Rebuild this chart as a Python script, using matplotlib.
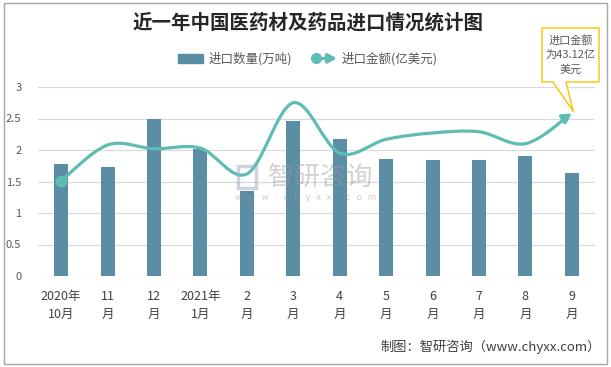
import numpy as np
import matplotlib
matplotlib.use("Agg")
import matplotlib.pyplot as plt
from matplotlib.path import Path
from matplotlib.patches import FancyArrowPatch, Patch, Polygon, Rectangle
from matplotlib.lines import Line2D
from matplotlib.legend_handler import HandlerBase

plt.rcParams['font.family'] = ['Noto Sans CJK SC', 'DejaVu Sans']

# ---- data ----
months = ["2020年\n10月", "11\n月", "12\n月", "2021年\n1月", "2\n月", "3\n月",
          "4\n月", "5\n月", "6\n月", "7\n月", "8\n月", "9\n月"]
volume = [1.78, 1.73, 2.49, 2.02, 1.35, 2.46, 2.17, 1.86, 1.84, 1.84, 1.90, 1.64]   # 万吨
amount = [1.51, 2.08, 2.02, 2.03, 1.62, 2.75, 1.95, 2.17, 2.27, 2.29, 2.10, 2.58]   # 亿美元 (drawn on same scale)
yticks = [0, 0.5, 1, 1.5, 2, 2.5, 3]
ytick_labels = ["0", "0.5", "1", "1.5", "2", "2.5", "3"]

bar_color = "#5B8DA5"
line_color = "#5EBDB3"
text_grey = "#595959"

W, H = 611, 367
fig = plt.figure(figsize=(W / 100, H / 100), dpi=100)
fig.subplots_adjust(left=38 / W, right=595 / W, bottom=1 - 276 / H, top=1 - 87 / H)
ax = fig.add_subplot(111)

x = np.arange(len(months))
ax.bar(x, volume, width=0.3, color=bar_color, zorder=2)


# smoothed line like excel (catmull-rom -> cubic bezier segments)
def smooth_path(xs, ys):
    pts = np.column_stack([xs, ys]).astype(float)
    verts = [pts[0]]
    codes = [Path.MOVETO]
    n = len(pts)
    for i in range(n - 1):
        p0 = pts[i - 1] if i > 0 else pts[i]
        p1 = pts[i]
        p2 = pts[i + 1]
        p3 = pts[i + 2] if i + 2 < n else pts[i + 1]
        c1 = p1 + (p2 - p0) / 6
        c2 = p2 - (p3 - p1) / 6
        verts += [c1, c2, p2]
        codes += [Path.CURVE4] * 3
    return Path(verts, codes)


curve = FancyArrowPatch(path=smooth_path(x, amount), arrowstyle="-|>,head_length=0.45,head_width=0.25",
                        mutation_scale=12, color=line_color, lw=2.3, capstyle="round",
                        joinstyle="round", transform=ax.transData, zorder=3)
ax.add_artist(curve)
ax.plot(x[0], amount[0], marker="o", ms=7.5, color=line_color, zorder=4)

ax.set_xlim(-0.5, len(months) - 0.5)
ax.set_ylim(0, 3)
ax.set_yticks(yticks)
ax.set_yticklabels(ytick_labels)
ax.set_xticks(x)
ax.set_xticklabels(months, linespacing=1.55)
ax.tick_params(axis="y", length=0, labelsize=8, labelcolor=text_grey, pad=12)
ax.tick_params(axis="x", length=0, labelsize=9, labelcolor="#404040", pad=10)
ax.grid(axis="y", color="#D9D9D9", lw=0.9, zorder=0)
for s in ax.spines.values():
    s.set_visible(False)

# title
fig.text(308 / W, 1 - 23 / H, "近一年中国医药材及药品进口情况统计图", ha="center", va="center",
         fontsize=14, fontweight="bold", color="#262626")


# legend
class ArrowHandler(HandlerBase):
    def create_artists(self, legend, orig_handle, xdescent, ydescent, width, height, fontsize, trans):
        y = height / 2 - ydescent
        arr = FancyArrowPatch((-xdescent + 3, y), (width - xdescent, y),
                              arrowstyle="-|>,head_length=0.45,head_width=0.25", mutation_scale=11,
                              color=line_color, lw=2.3, shrinkA=0, shrinkB=0, transform=trans)
        dot = Line2D([-xdescent + 3], [y], marker="o", ms=7, color=line_color, transform=trans)
        return [arr, dot]


h_bar = Patch(color=bar_color)
h_line = Line2D([], [], color=line_color)
fig.legend([h_bar, h_line], ["进口数量(万吨)", "进口金额(亿美元)"],
           handler_map={Line2D: ArrowHandler()}, loc="center",
           bbox_to_anchor=(308 / W, 1 - 59 / H), ncol=2, frameon=False, fontsize=9,
           labelcolor=text_grey, handlelength=2.0, handletextpad=0.4, columnspacing=1.6)

# callout box with pointer to last point
tip = fig.transFigure.inverted().transform(ax.transData.transform((x[-1], amount[-1])))
bx0, bx1, by0, by1 = 542 / W, 599 / W, 1 - 82 / H, 1 - 28 / H
callout = Polygon([(bx0, by0), (bx0, by1), (bx1, by1), (bx1, by0), (566 / W, by0),
                   (tip[0] + 1.5 / W, tip[1] + 2 / H), (553 / W, by0)],
                  closed=True, transform=fig.transFigure, facecolor="white",
                  edgecolor="#FFC000", lw=1.0, zorder=5)
fig.patches.append(callout)
fig.text((bx0 + bx1) / 2, (by0 + by1) / 2, "进口金额\n为43.12亿\n美元", ha="center", va="center",
         fontsize=8, color=text_grey, linespacing=1.45, zorder=6)

# watermark
fig.text(268 / W, 1 - 177 / H, "智研咨询", ha="left", va="center", fontsize=19,
         color="#9A9A9A", alpha=0.45)
fig.text(306 / W, 1 - 197 / H, "w   w   w   .   c   h   y   x   x   .   c   o   m", ha="center",
         va="center", fontsize=6.5, color="#9A9A9A", alpha=0.5)
fig.patches.append(Rectangle((238 / W, 1 - 188 / H), 18 / W, 22 / H, transform=fig.transFigure,
                             facecolor="none", edgecolor="#9AA8C0", lw=2.5, alpha=0.5))

# source
fig.text(601 / W, 1 - 347 / H, "制图：智研咨询（www.chyxx.com）", ha="right", va="center",
         fontsize=9.5, color="#404040")

# outer border
fig.patches.append(Rectangle((4 / W, 3 / H), 603 / W, 361 / H, transform=fig.transFigure,
                             facecolor="none", edgecolor="#A6A6A6", lw=1.0))

fig.savefig("out.png", dpi=100)
